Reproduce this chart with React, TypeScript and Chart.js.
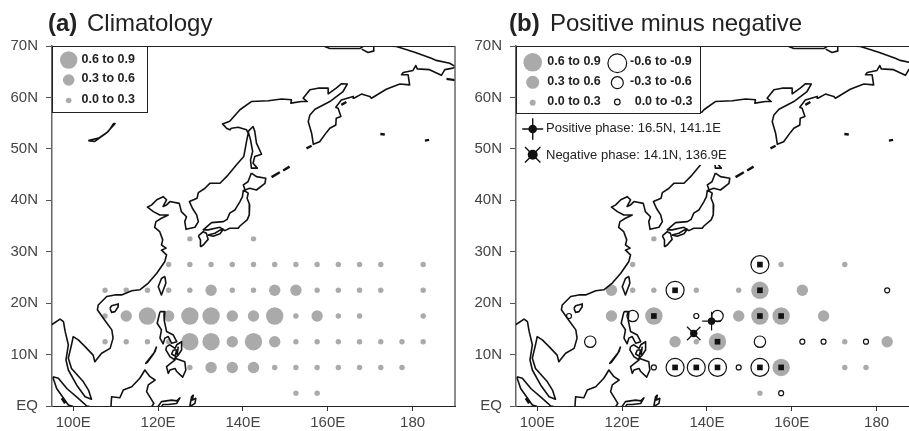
import React, { useEffect, useRef } from "react";
import { Chart, registerables } from "chart.js";

Chart.register(...registerables);

const xTickValues = [100, 120, 140, 160, 180];
const xTickLabels = ["100E", "120E", "140E", "160E", "180"];
const yTickValues = [0, 10, 20, 30, 40, 50, 60, 70];
const yTickLabels = ["EQ", "10N", "20N", "30N", "40N", "50N", "60N", "70N"];

const gridLons = [107.5, 112.5, 117.5, 122.5, 127.5, 132.5, 137.5, 142.5, 147.5, 152.5, 157.5, 162.5, 167.5, 172.5, 177.5, 182.5];
const gridLats = [32.5, 27.5, 22.5, 17.5, 12.5, 7.5, 2.5];
const _ = null;

// Climatology: one row per latitude in gridLats; value read as the bin of the dot.
const climRow32 = [_, _, _, _, .15, _, _, .15, _, _, _, _, _, _, _, _];
const climRow27 = [_, _, _, .15, .15, .15, .15, .15, .15, .15, .15, .15, .15, .15, _, .15];
const climRow22 = [.15, .15, .15, .15, .15, .45, .15, .15, .45, .45, .15, .15, .15, .15, _, .15];
const climRow17 = [.15, .45, .75, .45, .75, .75, .45, .45, .75, .15, .45, .15, .15, _, _, .15];
const climRow12 = [.15, .15, .15, .15, .75, .75, .45, .75, .45, .15, .15, .15, .15, .15, .15, .15];
const climRow07 = [_, _, _, _, .15, .45, .45, .45, .15, .15, .15, .15, .15, .15, .15, _];
const climRow02 = [_, _, _, _, _, _, _, _, _, .15, .15, _, _, _, _, _];
const climRows = [climRow32, climRow27, climRow22, climRow17, climRow12, climRow07, climRow02];

// Positive minus negative: negative values are the open circles.
const diffRow32 = [_, _, _, _, .15, _, _, _, _, _, _, _, _, _, _, _];
const diffRow27 = [_, _, _, .15, _, _, _, _, _, -.75, .15, _, _, .15, _, _];
const diffRow22 = [_, _, .45, .15, .15, -.75, .15, _, .15, .75, _, .45, _, _, _, -.15];
const diffRow17 = [-.15, _, .45, -.45, .75, _, -.15, -.45, .45, .75, .75, _, .45, _, _, _];
const diffRow12 = [_, -.45, _, _, _, .45, .15, .75, _, -.45, _, -.15, -.15, .15, -.15, .45];
const diffRow07 = [_, _, _, _, -.15, -.75, -.75, -.75, -.15, -.75, .75, _, _, .15, .15, _];
const diffRow02 = [_, _, _, _, _, _, _, _, _, .15, -.15, _, _, _, _, _];
const diffRows = [diffRow32, diffRow27, diffRow22, diffRow17, diffRow12, diffRow07, diffRow02];

const sigLons = [152.5, 132.5, 152.5, 127.5, 152.5, 157.5, 142.5, 132.5, 137.5, 142.5, 152.5, 157.5];
const sigLats = [27.5, 22.5, 22.5, 17.5, 17.5, 17.5, 12.5, 7.5, 7.5, 7.5, 7.5, 7.5];

const positivePhase = { lon: 141.1, lat: 16.5 };
const negativePhase = { lon: 136.9, lat: 14.1 };

const coastMainland = [
  [171.9,70.1],[176.2,69.9],[180.5,68.8],[184.4,67.6],[185.6,67.2],[188.75,66.65],[190.1,66],[189.5,65.7],[187.6,65.4],[186.8,64.3],[184,65.4],[181.1,65.55],[180.75,66.2],[180.1,65.25],[177.8,64.85],[177.4,64.4],[178.95,64.4],[179.3,62.45],[177,62.6],[173.8,61.6],[170.3,59.85],[169.9,60.2],[167.95,60.65],[166.15,59.85],[166,60.2],[163.2,59.5],[161.9,58.1],[162.45,57.9],[163.1,56.3],[162,55.95],[161.9,54.65],[160.5,54],[159.7,53.2],[158.1,51.4],[156.6,50.9],[156.2,53.05],[155.4,55.3],[155.8,56.6],[157,57.7],[160.5,59.2],[163.6,61.15],[164.6,62.6],[163.2,62.65],[162,61.8],[160.1,60.7],[160.1,61.8],[157.7,61.8],[155.8,61.5],[154.2,59.85],[155.15,59.2],[153.8,59.2],[151.3,58.9],[151.45,59.55],[149.1,59.7],[146,59.35],[142,59.2],[139.3,57.6],[136.9,55.35],[135.2,54.85],[136.15,54],[136.93,53.7],[137.3,54],[138.9,54.2],[140.85,53.7],[141.25,53.05],[140.85,51.4],[140.5,49.8],[140.2,48.5],[138.5,46.9],[136.5,44.9],[134.6,43.3],[132.2,43.3],[131,42.3],[129.5,41.5],[129.2,40.4],[127.4,39.75],[128.1,38.45],[129.1,37.15],[129.5,35.85],[128.7,34.75],[126.6,34.35],[126.3,35.85],[126.7,36.8],[125.5,37.8],[125,39.4],[122.8,39.75],[122,39.1],[121.2,38.8],[122,40.1],[121.2,40.7],[119.7,40.1],[118.5,39.1],[117.5,38.65],[118.9,37.8],[120.4,37.15],[122.4,37.15],[120.8,36.5],[119.5,35.85],[119.2,34.75],[120.4,33.9],[121.1,32.3],[120.8,31.3],[121.9,30.7],[120.8,30.3],[122,29.4],[121.6,28.1],[119.7,25.8],[117.7,23.9],[115.7,22.6],[113.8,22.4],[111.4,21.6],[109.8,21.6],[107.9,21.3],[105.9,19.65],[105.7,18.7],[107.1,17.05],[109.1,14.8],[109.4,13.2],[108.7,11.2],[106.7,10.25],[105.1,8.6],[104.7,9.9],[102.8,11.55],[101.2,12.85],[100,13.5],[99.6,11.9],[98.85,9.3],[99.6,7.3],[102.4,4.7],[103.6,3.1],[104.3,1.3],[102.8,1.8],[100.8,4.1],[98.85,7],[98.3,8.95],[98.85,11.9],[98.1,14.5],[97.7,16.4],[96.9,16.9],[94.9,15.8],
];
const coastChukotka = [[159.3,69.9],[160.5,69.5],[167.55,69.5],[168.3,69.9]];
const coastChukotkaBay = [[168,69.4],[169.5,68.75],[170.7,69],[170.85,69.9]];
const coastBaikal = [[103.55,51.6],[105.1,51.45],[107.8,53.05],[109.85,54.9],[109.5,54.9],[108.3,53.4],[106,52.1],[103.55,51.6]];
const coastSakhalin = [[141.25,53.4],[142.4,54.35],[142.8,53.4],[143.2,51.1],[144.4,48.95],[142.8,48.5],[142.4,47.2],[143.4,46.25],[142,46.25],[141.8,47.85],[142.3,49.5],[141.8,51.75],[141.25,53.4]];
const coastHokkaido = [[142,45.3],[143.2,44.6],[145.4,44.3],[145.2,43.3],[143.2,42],[141.6,42.35],[140.5,42],[140.1,43],[141.2,43.6],[142,45.3]];
const coastHonshu = [[140.1,42],[141.25,41.4],[141,40.4],[141.6,39.1],[141.5,37.15],[141,36.2],[139.3,35],[138.9,34.55],[136.9,34.55],[135.75,34.1],[134.6,34.75],[131.8,34.25],[130.65,34.25],[132.6,35.65],[135.4,35.85],[136.3,36.3],[136.9,37.5],[138.1,38.1],[139.3,39.75],[139.9,40.7],[140.1,42]];
const coastKyushu = [[129.5,33.1],[130.65,33.9],[131.4,33.6],[131.8,32.4],[130.65,31.3],[130.1,31],[130,32.3],[129.5,33.1]];
const coastShikoku = [[131.8,33.25],[133.4,33.6],[134.6,34.2],[135.4,34.35],[134.6,33.5],[133,33],[131.8,33.25]];
const coastHainan = [[108.66,19],[109.06,19.5],[110.6,19.85],[110.6,19.3],[109.85,18.35],[109.06,18.2],[108.66,19]];
const coastTaiwan = [[121.6,25.2],[120.8,24.8],[120.05,23.2],[120.8,21.6],[121.85,23.9],[121.6,25.2]];
const coastLuzon = [[120.45,18.35],[121.6,18.35],[121.45,16.7],[122,14.5],[123.6,13.8],[124.4,12.5],[123.2,12.2],[122.4,13.5],[121.6,13.2],[121.2,12.1],[120.45,13.2],[120.8,14.8],[119.8,16.1],[120.45,18.35]];
const coastMindanao = [[122,11.55],[122.8,11.9],[124,11.2],[124.4,11.9],[125.55,12.5],[125.55,10.9],[124.75,9.9],[124,9.3],[125.15,8.95],[126.3,8.6],[126.55,7],[125.8,5.6],[124.4,6.7],[124,7.3],[122.8,7],[122.4,6.35],[122,7.65],[124,8.95],[122.8,9.6],[121.85,10.9],[122,11.55]];
const coastNegros = [[123.6,10.9],[123.2,10.1],[124,9.7],[124.4,10.9],[123.6,10.9]];
const coastCebu = [[124.75,11.55],[124.5,9.9]];
const coastPalawan = [[119.65,11.55],[119.3,10.6],[117.1,8.3],[117.5,8.5],[119,10.2],[119.65,11.55]];
const coastBorneo = [[108.9,-0.1],[109.05,1.8],[111,1.6],[111.8,3.1],[113.8,3.75],[115.7,5.4],[116.9,7],[118.1,5.7],[119.3,5.05],[117.7,4.1],[117.3,2.8],[119,0.5],[118.5,-0.1]];
const coastSulawesi = [[120,-0.1],[120.8,0.85],[123.2,1.15],[124.4,1],[125.15,1.6],[124.4,0.5],[122.4,0.3],[121.2,0.3],[120.8,-0.1]];
const coastHalmahera = [[127.5,0],[127.9,1.8],[128.3,2.1],[128.1,1.15],[128.9,1.5],[128.7,0.5],[128.1,0.2],[127.5,0]];
const coastSumatraNorth = [[95.2,5.7],[96.5,5.4],[98.5,3.4],[101.2,1.5],[103.2,0],[103.9,-0.1]];
const coastSumatraSouth = [[95.2,5.6],[96.1,3.4],[98.85,0.2],[100,-0.1]];
const coastLines = [coastMainland, coastChukotka, coastChukotkaBay, coastBaikal, coastSakhalin, coastHokkaido, coastHonshu, coastKyushu, coastShikoku, coastHainan, coastTaiwan, coastLuzon, coastMindanao, coastNegros, coastCebu, coastPalawan, coastBorneo, coastSulawesi, coastHalmahera, coastSumatraNorth, coastSumatraSouth];

const isletKuril1 = [[146.75,44.5],[148.7,45.45]];
const isletKuril2 = [[149.5,45.8],[151,46.55]];
const isletKuril3 = [[155,50.1],[156.2,50.6]];
const isletAleutian1 = [[172.4,52.9],[173.45,52.8]];
const isletAleutian2 = [[182.9,51.6],[183.9,51.75]];
const isletLawrence = [[188,63.6],[190.1,63.35]];
const isletKaraginsky = [[163.2,58.55],[164.4,59.1]];
const isletNias = [[97.3,1.5],[98.1,0.5]];
const islets = [isletKuril1, isletKuril2, isletKuril3, isletAleutian1, isletAleutian2, isletLawrence, isletKaraginsky, isletNias];

const GREY = "#aaaaaa";
const SANS = '"Liberation Sans", Arial, sans-serif';

const flatten = (parts: number[][][]) => {
  const out: any[] = [];
  parts.forEach((p) => {
    p.forEach(([x, y]) => out.push({ x, y }));
    out.push({ x: null, y: null });
  });
  return out;
};

const rowsToPoints = (rows: (number | null)[][]) => {
  const out: { x: number; y: number; v: number }[] = [];
  rows.forEach((row, i) =>
    row.forEach((v, j) => {
      if (v !== null) out.push({ x: gridLons[j], y: gridLats[i], v });
    })
  );
  return out;
};

const radiusOf = (v: number) => {
  const a = Math.abs(v);
  if (v < 0) return a > 0.6 ? 9 : a > 0.3 ? 5.7 : 2.5;
  return a > 0.6 ? 8.7 : a > 0.3 ? 5.7 : 2.7;
};

const circle = (ctx: CanvasRenderingContext2D, x: number, y: number, r: number, open: boolean) => {
  ctx.beginPath();
  ctx.arc(x, y, r, 0, Math.PI * 2);
  if (open) {
    ctx.fillStyle = "#fff";
    ctx.fill();
    ctx.strokeStyle = "#111";
    ctx.lineWidth = 1.2;
    ctx.stroke();
  } else {
    ctx.fillStyle = GREY;
    ctx.fill();
  }
};

const label = (ctx: CanvasRenderingContext2D, s: string, x: number, y: number, font: string) => {
  ctx.font = font;
  ctx.fillStyle = "#222";
  ctx.textAlign = "left";
  ctx.textBaseline = "middle";
  ctx.fillText(s, x, y);
};

const framePlugin = {
  id: "frame",
  afterDatasetsDraw(chart: any) {
    const { ctx, chartArea: a } = chart;
    ctx.save();
    ctx.strokeStyle = "#222";
    ctx.lineWidth = 1;
    ctx.beginPath();
    ctx.moveTo(a.left, a.top + 0.5);
    ctx.lineTo(a.right, a.top + 0.5);
    ctx.stroke();
    ctx.strokeStyle = "#666";
    ctx.lineWidth = 1.5;
    ctx.beginPath();
    ctx.moveTo(a.right, a.top);
    ctx.lineTo(a.right, a.bottom);
    ctx.stroke();
    ctx.restore();
  },
};

const titlePlugin = (bold: string, rest: string, x: number, gap: number) => ({
  id: "panelTitle",
  afterDraw(chart: any) {
    const { ctx } = chart;
    ctx.save();
    ctx.textBaseline = "alphabetic";
    ctx.textAlign = "left";
    ctx.fillStyle = "#222";
    ctx.font = `bold 24px ${SANS}`;
    ctx.fillText(bold, x, 31);
    ctx.font = `24px ${SANS}`;
    ctx.fillText(rest, x + gap, 31);
    ctx.restore();
  },
});

const legendA = {
  id: "legendA",
  afterDatasetsDraw(chart: any) {
    const { ctx, chartArea: a } = chart;
    ctx.save();
    ctx.fillStyle = "#fff";
    ctx.fillRect(a.left, a.top, 95, 66);
    ctx.strokeStyle = "#222";
    ctx.lineWidth = 1;
    ctx.strokeRect(a.left + 0.5, a.top + 0.5, 95, 66);
    const f = `bold 12.5px ${SANS}`;
    circle(ctx, a.left + 16.7, a.top + 14, 8.7, false);
    circle(ctx, a.left + 16.7, a.top + 34, 5.8, false);
    circle(ctx, a.left + 16.7, a.top + 54.5, 2.8, false);
    label(ctx, "0.6 to 0.9", a.left + 29.5, a.top + 14, f);
    label(ctx, "0.3 to 0.6", a.left + 29.5, a.top + 33, f);
    label(ctx, "0.0 to 0.3", a.left + 29.5, a.top + 54, f);
    ctx.restore();
  },
};

const legendB = {
  id: "legendB",
  afterDatasetsDraw(chart: any) {
    const { ctx, chartArea: a } = chart;
    const L = a.left;
    const T = a.top;
    ctx.save();
    ctx.fillStyle = "#fff";
    ctx.fillRect(L + 1, T + 67, 214, 52);
    ctx.fillRect(L, T, 184, 67);
    ctx.strokeStyle = "#222";
    ctx.lineWidth = 1;
    ctx.strokeRect(L + 0.5, T + 0.5, 184, 67);
    const f = `bold 12.5px ${SANS}`;
    circle(ctx, L + 16.7, T + 16.3, 9.3, false);
    circle(ctx, L + 16.7, T + 36.3, 6.5, false);
    circle(ctx, L + 16.7, T + 56.7, 3, false);
    circle(ctx, L + 101.3, T + 17.3, 9.4, true);
    circle(ctx, L + 101.3, T + 36.7, 6, true);
    circle(ctx, L + 101.3, T + 56, 2.8, true);
    label(ctx, "0.6 to 0.9", L + 31.3, T + 15.7, f);
    label(ctx, "0.3 to 0.6", L + 31.3, T + 36, f);
    label(ctx, "0.0 to 0.3", L + 31.3, T + 56, f);
    label(ctx, "-0.6 to -0.9", L + 114, T + 15.7, f);
    label(ctx, "-0.3 to -0.6", L + 114, T + 36, f);
    label(ctx, "0.0 to -0.3", L + 118.7, T + 56, f);
    const f2 = `13px ${SANS}`;
    label(ctx, "Positive phase: 16.5N, 141.1E", L + 30, T + 82.5, f2);
    label(ctx, "Negative phase: 14.1N, 136.9E", L + 30, T + 109, f2);
    ctx.fillStyle = "#111";
    ctx.strokeStyle = "#111";
    ctx.lineWidth = 1.4;
    const cx = L + 16.7;
    const py = T + 83;
    const ny = T + 108.7;
    ctx.beginPath();
    ctx.moveTo(cx - 10.5, py); ctx.lineTo(cx + 10.5, py);
    ctx.moveTo(cx, py - 10.8); ctx.lineTo(cx, py + 10.8);
    ctx.moveTo(cx - 7.7, ny - 7.7); ctx.lineTo(cx + 7.7, ny + 7.7);
    ctx.moveTo(cx - 7.7, ny + 7.7); ctx.lineTo(cx + 7.7, ny - 7.7);
    ctx.stroke();
    ctx.beginPath(); ctx.arc(cx, py, 4.3, 0, Math.PI * 2); ctx.fill();
    ctx.beginPath(); ctx.arc(cx, ny, 5, 0, Math.PI * 2); ctx.fill();
    ctx.restore();
  },
};

const noPadding = (s: any) => {
  s.paddingLeft = 0;
  s.paddingRight = 0;
  s.paddingTop = 0;
  s.paddingBottom = 0;
};

const baseOptions = () => ({
  animation: false as const,
  responsive: false,
  devicePixelRatio: 1,
  events: [] as any[],
  layout: { autoPadding: false, padding: { top: 46, right: 5, left: 0, bottom: 0 } },
  plugins: { legend: { display: false }, tooltip: { enabled: false }, title: { display: false } },
  scales: {
    x: {
      type: "linear" as const,
      min: 95,
      max: 190,
      afterBuildTicks: (s: any) => { s.ticks = xTickValues.map((value) => ({ value })); },
      afterFit: (s: any) => { s.height = 25; noPadding(s); },
      border: { color: "#222", width: 1 },
      grid: { drawOnChartArea: false, drawTicks: true, tickLength: 5, color: "#333" },
      ticks: {
        autoSkip: false, maxRotation: 0, padding: 3, color: "#444",
        font: { family: SANS, size: 15 },
        callback: (v: any) => xTickLabels[xTickValues.indexOf(v)],
      },
    },
    y: {
      type: "linear" as const,
      min: 0,
      max: 70,
      afterBuildTicks: (s: any) => { s.ticks = yTickValues.map((value) => ({ value })); },
      afterFit: (s: any) => { s.width = 52; noPadding(s); },
      border: { color: "#666", width: 1.5 },
      grid: { drawOnChartArea: false, drawTicks: true, tickLength: 6, color: "#555" },
      ticks: {
        autoSkip: false, padding: 8, color: "#444",
        font: { family: SANS, size: 15 },
        callback: (v: any) => yTickLabels[yTickValues.indexOf(v)],
      },
    },
  },
});

const coastDatasets = () => [
  { type: "scatter", label: "coast", data: flatten(coastLines as any), showLine: true, spanGaps: false, borderColor: "#111", borderWidth: 1.6, borderJoinStyle: "round", pointRadius: 0, order: 0 },
  { type: "scatter", label: "islets", data: flatten(islets as any), showLine: true, spanGaps: false, borderColor: "#111", borderWidth: 2.4, pointRadius: 0, order: 0 },
];

export default function App() {
  const refA = useRef<HTMLCanvasElement>(null);
  const refB = useRef<HTMLCanvasElement>(null);

  useEffect(() => {
    const clim = rowsToPoints(climRows);
    const chartA = new Chart(refA.current as any, {
      type: "scatter",
      data: {
        datasets: [
          ...coastDatasets(),
          {
            label: "climatology",
            data: clim,
            order: 2,
            pointStyle: "circle",
            pointRadius: clim.map((p) => radiusOf(p.v)),
            pointBackgroundColor: GREY,
            pointBorderWidth: 0,
          },
        ] as any,
      },
      options: baseOptions() as any,
      plugins: [framePlugin, legendA, titlePlugin("(a)", "Climatology", 48, 39)],
    });

    const diff = rowsToPoints(diffRows);
    const chartB = new Chart(refB.current as any, {
      type: "scatter",
      data: {
        datasets: [
          ...coastDatasets(),
          {
            label: "difference",
            data: diff,
            order: 3,
            pointStyle: "circle",
            pointRadius: diff.map((p) => radiusOf(p.v)),
            pointBackgroundColor: diff.map((p) => (p.v < 0 ? "#ffffff" : GREY)),
            pointBorderColor: "#111",
            pointBorderWidth: diff.map((p) => (p.v < 0 ? 1.2 : 0)),
          },
          {
            label: "significant",
            data: sigLons.map((x, i) => ({ x, y: sigLats[i] })),
            order: 2,
            pointStyle: "rect",
            pointRadius: 4,
            pointBackgroundColor: "#111",
            pointBorderWidth: 0,
          },
          {
            label: "positive phase",
            data: [{ x: positivePhase.lon, y: positivePhase.lat }],
            order: -1,
            pointStyle: "cross",
            pointRadius: 9.3,
            pointBorderColor: "#111",
            pointBorderWidth: 1.2,
          },
          {
            label: "negative phase",
            data: [{ x: negativePhase.lon, y: negativePhase.lat }],
            order: -1,
            pointStyle: "crossRot",
            pointRadius: 9.5,
            pointBorderColor: "#111",
            pointBorderWidth: 1.2,
          },
          {
            label: "phase centres",
            data: [
              { x: positivePhase.lon, y: positivePhase.lat },
              { x: negativePhase.lon, y: negativePhase.lat },
            ],
            order: -2,
            pointStyle: "circle",
            pointRadius: 3.7,
            pointBackgroundColor: "#111",
            pointBorderWidth: 0,
          },
        ] as any,
      },
      options: baseOptions() as any,
      plugins: [framePlugin, legendB, titlePlugin("(b)", "Positive minus negative", 45, 41)],
    });

    return () => {
      chartA.destroy();
      chartB.destroy();
    };
  }, []);

  return (
    <div style={{ position: "absolute", left: 0, top: 0, width: 909, height: 431, overflow: "hidden", background: "#fff" }}>
      <canvas ref={refA} width={460} height={431} style={{ position: "absolute", left: 0, top: 0 }} />
      <canvas ref={refB} width={460} height={431} style={{ position: "absolute", left: 464, top: 0 }} />
    </div>
  );
}
